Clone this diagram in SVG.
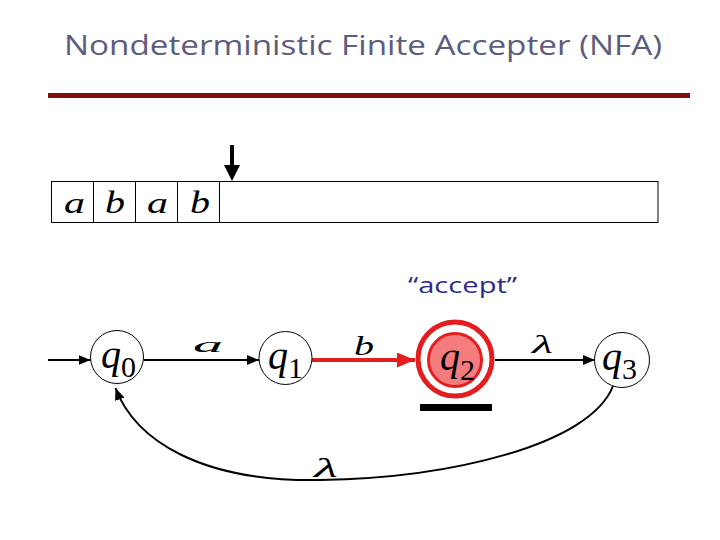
<svg xmlns="http://www.w3.org/2000/svg" width="720" height="540" viewBox="0 0 720 540">
<defs>
<style>
.title{font-family:"Open Sans","DejaVu Sans",sans-serif;font-size:28px;fill:#5c5c7e}
.accept{font-family:"Open Sans","DejaVu Sans",sans-serif;font-size:22px;fill:#2b2b8f}
.sym{font-family:"Liberation Serif","Times New Roman",serif;font-style:italic;fill:#000}
.q{font-family:"Liberation Serif","Times New Roman",serif;font-style:italic;font-size:40px;fill:#000}
.sub{font-style:normal;font-size:30px}
.state{fill:#fff;stroke:#000;stroke-width:1}
.edge{fill:none;stroke:#000;stroke-width:2}
.red{fill:none;stroke:#e41e1e;stroke-width:4}
</style>
<marker id="ah" viewBox="0 0 12 10" refX="12" refY="5" markerWidth="12" markerHeight="10" markerUnits="userSpaceOnUse" orient="auto">
<path d="M0,0 L12,5 L0,10 z" fill="#000"/>
</marker>
<marker id="ahr" viewBox="0 0 18 15" refX="18" refY="7.5" markerWidth="18" markerHeight="15" markerUnits="userSpaceOnUse" orient="auto">
<path d="M0,0 L18,7.5 L0,15 z" fill="#e41e1e"/>
</marker>
</defs>
<rect width="720" height="540" fill="#fff"/>
<g id="title">
<text class="title" x="64" y="55" textLength="598" lengthAdjust="spacingAndGlyphs">Nondeterministic Finite Accepter (NFA)</text>
<rect x="48" y="93" width="642" height="5" fill="#7a1212"/>
</g>
<g id="tape">
<rect x="51.5" y="181.5" width="606.5" height="41" fill="#fff" stroke="#000" stroke-width="1"/>
<line x1="93.5" y1="181.5" x2="93.5" y2="222.5" stroke="#000" stroke-width="1"/>
<line x1="135.5" y1="181.5" x2="135.5" y2="222.5" stroke="#000" stroke-width="1"/>
<line x1="177.5" y1="181.5" x2="177.5" y2="222.5" stroke="#000" stroke-width="1"/>
<line x1="219.5" y1="181.5" x2="219.5" y2="222.5" stroke="#000" stroke-width="1"/>
<text class="sym" x="64" y="213" font-size="30" textLength="21" lengthAdjust="spacingAndGlyphs">a</text>
<text class="sym" x="105" y="213" font-size="32" textLength="20" lengthAdjust="spacingAndGlyphs">b</text>
<text class="sym" x="147" y="213" font-size="30" textLength="21" lengthAdjust="spacingAndGlyphs">a</text>
<text class="sym" x="190" y="213" font-size="32" textLength="20" lengthAdjust="spacingAndGlyphs">b</text>
</g>
<g id="head">
<line x1="232" y1="145" x2="232" y2="166" stroke="#000" stroke-width="4"/>
<polygon points="224,165 240,165 232,181" fill="#000"/>
</g>
<g id="accept-label">
<text class="accept" x="408" y="293" textLength="109" lengthAdjust="spacingAndGlyphs">“accept”</text>
</g>
<g id="connectors">
<line class="edge" x1="48" y1="360" x2="90.5" y2="360" marker-end="url(#ah)"/>
<line class="edge" x1="144" y1="360" x2="259" y2="360" marker-end="url(#ah)"/>
<line class="red" x1="312" y1="360" x2="415" y2="360" marker-end="url(#ahr)"/>
<line class="edge" x1="495" y1="360" x2="595" y2="360" marker-end="url(#ah)"/>
<path class="edge" d="M613,386 C590,445 450,478 320,480 C200,482 135,440 115.5,388" marker-end="url(#ah)"/>
<text class="sym" x="193" y="352" font-size="22" textLength="30" lengthAdjust="spacingAndGlyphs">a</text>
<text class="sym" x="354" y="355" font-size="28" textLength="20" lengthAdjust="spacingAndGlyphs">b</text>
<text class="sym" x="532" y="353" font-size="26" textLength="21" lengthAdjust="spacingAndGlyphs">λ</text>
<text class="sym" x="314" y="477" font-size="28" textLength="24" lengthAdjust="spacingAndGlyphs">λ</text>
</g>
<g id="q0">
<circle class="state" cx="117" cy="357" r="26.5"/>
<text class="q" x="101" y="368">q<tspan class="sub" dy="9">0</tspan></text>
</g>
<g id="q1">
<circle class="state" cx="285.5" cy="358" r="26.5"/>
<text class="q" x="268" y="369">q<tspan class="sub" dy="9">1</tspan></text>
</g>
<g id="q2">
<circle cx="455" cy="359" r="37" fill="#fff" stroke="#e41e1e" stroke-width="5"/>
<circle cx="455" cy="360" r="26.5" fill="#f47c7c" stroke="#e41e1e" stroke-width="3"/>
<text class="q" x="440" y="370">q<tspan class="sub" dy="10">2</tspan></text>
<rect x="420" y="404" width="72" height="7" fill="#000"/>
</g>
<g id="q3">
<circle class="state" cx="622" cy="360" r="27.5"/>
<text class="q" x="602" y="370">q<tspan class="sub" dy="9">3</tspan></text>
</g>
</svg>
